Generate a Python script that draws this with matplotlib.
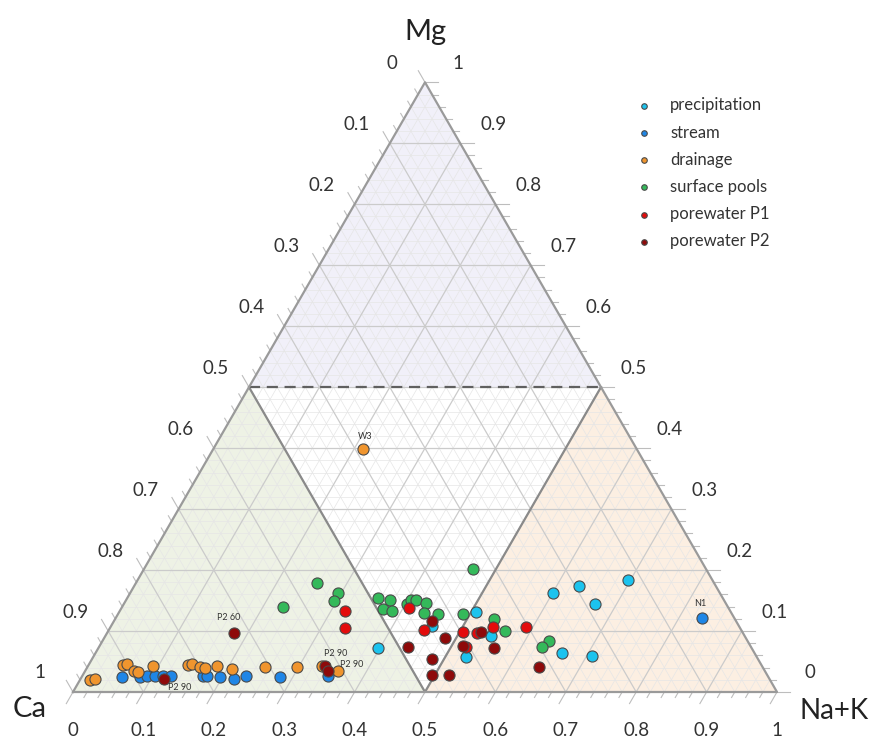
import numpy as np
import matplotlib
matplotlib.use("Agg")
import matplotlib.pyplot as plt
from matplotlib.patches import Polygon

plt.rcParams['font.family'] = ['Lato', 'DejaVu Sans']

# --- data: (Na+K fraction, Mg fraction), Ca = 1 - both ---
precip_nak = [0.397, 0.456, 0.507, 0.548, 0.530, 0.600, 0.632, 0.669, 0.696, 0.663, 0.708]
precip_mg = [0.072, 0.108, 0.131, 0.092, 0.057, 0.163, 0.174, 0.144, 0.184, 0.064, 0.059]

stream_nak = [0.057, 0.083, 0.092, 0.103, 0.115, 0.126, 0.172, 0.177, 0.196, 0.218, 0.233, 0.282, 0.349, 0.832]
stream_mg = [0.025, 0.025, 0.026, 0.026, 0.026, 0.026, 0.026, 0.026, 0.025, 0.021, 0.026, 0.025, 0.026, 0.122]

drain_nak = [0.014, 0.021, 0.049, 0.054, 0.070, 0.076, 0.092, 0.141, 0.146, 0.160, 0.168, 0.183,
             0.207, 0.252, 0.298, 0.332, 0.359, 0.212]
drain_mg = [0.020, 0.021, 0.044, 0.046, 0.034, 0.033, 0.043, 0.044, 0.046, 0.041, 0.039, 0.043,
            0.038, 0.041, 0.041, 0.043, 0.034, 0.399]

pools_nak = [0.467, 0.257, 0.295, 0.296, 0.228, 0.356, 0.372, 0.375, 0.386, 0.402, 0.404, 0.412,
             0.428, 0.434, 0.454, 0.490, 0.538, 0.564, 0.634, 0.629]
pools_mg = [0.202, 0.179, 0.163, 0.149, 0.140, 0.154, 0.136, 0.151, 0.133, 0.144, 0.151, 0.151,
            0.146, 0.130, 0.128, 0.128, 0.120, 0.100, 0.084, 0.074]

p1_nak = [0.320, 0.334, 0.408, 0.448, 0.505, 0.525, 0.543, 0.521, 0.590]
p1_mg = [0.133, 0.105, 0.138, 0.102, 0.099, 0.097, 0.107, 0.074, 0.107]

p2_nak = [0.180, 0.119, 0.336, 0.345, 0.439, 0.484, 0.483, 0.496, 0.520, 0.562, 0.641, 0.452, 0.516, 0.530]
p2_mg = [0.097, 0.021, 0.043, 0.034, 0.074, 0.089, 0.054, 0.028, 0.028, 0.072, 0.041, 0.117, 0.076, 0.099]

groups = ['precipitation', 'stream', 'drainage', 'surface pools', 'porewater P1', 'porewater P2']
colors = ['#1cc3ee', '#1f86e6', '#f0952e', '#34b95a', '#e30b0b', '#8e0a0a']

# point labels: (text, group index, point index, dx, dy in points)
point_labels = [('W3', 2, 17, 2, 9), ('N1', 1, 13, -1, 10), ('P2 60', 5, 0, -4, 11),
                ('P2 90', 5, 1, 11, -6), ('P2 90', 5, 2, 8, 9), ('P2 90', 5, 3, 17, 5)]

S = np.sqrt(3) / 2


def xy(nak, mg):
    nak = np.asarray(nak, dtype=float)
    mg = np.asarray(mg, dtype=float)
    return nak + mg / 2, mg * S


fig = plt.figure(figsize=(8.71, 7.37), dpi=100)
ax = fig.add_axes([0, 0, 1, 1])
ax.set_xlim(-73 / 704, 798 / 704)
ax.set_ylim(-45 / 704, 692 / 704)
ax.axis('off')

# shaded zones
zones = [([0, 0.5, 0], [0.5, 0.5, 1], '#f1f0f9'),
         ([0, 0.5, 0], [0, 0, 0.5], '#eef2e5'),
         ([0.5, 1, 0.5], [0, 0, 0.5], '#fcefe2')]
for zn, zm, zc in zones:
    px, py = xy(zn, zm)
    ax.add_patch(Polygon(np.column_stack([px, py]), closed=True, fc=zc, ec='none', zorder=0))

# fine grid and main grid
for v in np.arange(0.02, 1.0, 0.02):
    major = abs(v * 10 - round(v * 10)) < 1e-6
    col, lw, zo = ('#cbcbcb', 0.9, 2) if major else ('#e6e6e6', 0.5, 1)
    for a, b in [((0, v), (1 - v, v)), ((0, 1 - v), (1 - v, 0)), ((v, 0), (v, 1 - v))]:
        lx, ly = xy([a[0], b[0]], [a[1], b[1]])
        ax.plot(lx, ly, color=col, lw=lw, zorder=zo)

# ticks outside the edges
for v in np.arange(0, 1.0001, 0.02):
    major = abs(v * 10 - round(v * 10)) < 1e-6
    L = 0.019 if major else 0.009
    # Mg ticks to the right of right edge
    ex, ey = xy(1 - v, v)
    ax.plot([ex, ex + L], [ey, ey], color='#bdbdbd', lw=0.8, zorder=2)
    # Ca ticks beyond left edge
    ex, ey = xy(0, 1 - v)
    ax.plot([ex, ex - 0.5 * L], [ey, ey + S * L], color='#bdbdbd', lw=0.8, zorder=2)
    # Na+K ticks below bottom edge
    ex, ey = xy(v, 0)
    ax.plot([ex, ex - 0.5 * L], [ey, ey - S * L], color='#bdbdbd', lw=0.8, zorder=2)

# zone borders
bx, by = xy([0, 0.5, 0.5], [0.5, 0, 0.5])
ax.plot(bx, by, color='#8a8a8a', lw=1.6, zorder=3)
dx_, dy_ = xy([0, 0.5], [0.5, 0.5])
ax.plot(dx_, dy_, color='#606060', lw=1.6, ls=(0, (5, 3)), zorder=3)
tx, ty = xy([0, 1, 0, 0], [0, 0, 1, 0])
ax.plot(tx, ty, color='#9a9a9a', lw=1.6, zorder=3)

# tick labels
ticks = np.round(np.arange(0, 1.01, 0.1), 1)
fmt = lambda v: '%g' % v
off = 0.054
for v in ticks:
    ex, ey = xy(0, 1 - v)
    ax.text(ex - 0.866 * off, ey + 0.5 * off, fmt(v), ha='center', va='center',
            fontsize=13.5, color='#333333')
    ex, ey = xy(1 - v, v)
    ax.text(ex + 0.866 * off, ey + 0.5 * off, fmt(v), ha='center', va='center',
            fontsize=13.5, color='#333333')
    ex, ey = xy(v, 0)
    ax.text(ex, ey - off, fmt(v), ha='center', va='center',
            fontsize=13.5, color='#333333')

ax.text(0.5, 0.938, 'Mg', ha='center', va='center', fontsize=21, color='#222222')
ax.text(-0.061, -0.024, 'Ca', ha='center', va='center', fontsize=21, color='#222222')
ax.text(1.081, -0.027, 'Na+K', ha='center', va='center', fontsize=20, color='#222222')

# data points
series = [(precip_nak, precip_mg), (stream_nak, stream_mg), (drain_nak, drain_mg),
          (pools_nak, pools_mg), (p1_nak, p1_mg), (p2_nak, p2_mg)]
handles = []
for (nk, mg), name, c in zip(series, groups, colors):
    px, py = xy(nk, mg)
    h = ax.scatter(px, py, s=64, c=c, edgecolors='#4a4a4a', linewidths=0.8, zorder=5, label=name)
    handles.append(h)

for txt, gi, pi, ox, oy in point_labels:
    px, py = xy(series[gi][0][pi], series[gi][1][pi])
    ax.annotate(txt, (px, py), xytext=(ox, oy), textcoords='offset points',
                ha='center', va='center', fontsize=6.5, color='#333333', zorder=6)

leg = ax.legend(handles=handles, loc='upper left', bbox_to_anchor=(627 / 871, 1 - 89 / 737),
                frameon=False, fontsize=12, markerscale=0.5, handlelength=1.0,
                handletextpad=1.1, labelspacing=0.67, borderpad=0)
for t in leg.get_texts():
    t.set_color('#333333')

fig.savefig('out.png', dpi=100)
